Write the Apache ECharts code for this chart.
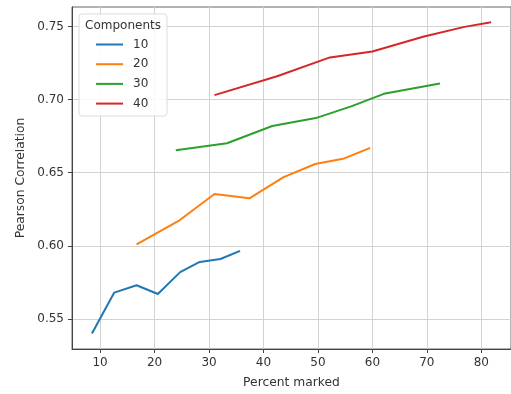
<!DOCTYPE html>
<html>
<head>
<meta charset="utf-8">
<script src="https://cdn.jsdelivr.net/npm/echarts@6/dist/echarts.min.js"></script>
<style>html,body{margin:0;padding:0;background:#fff}#c{width:511px;height:394px}</style>
</head>
<body>
<div id="c"></div>
<script>
var names = ['10', '20', '30', '40'];
var colors = ['#1f77b4', '#ff7f0e', '#2ca02c', '#d62728'];
var x10 = [8.5, 12.6, 16.7, 20.6, 24.7, 28.3, 32.1, 35.7];
var y10 = [0.540, 0.568, 0.573, 0.567, 0.582, 0.589, 0.591, 0.5965];
var x20 = [16.7, 24.4, 31.0, 37.4, 43.7, 49.5, 54.6, 59.6];
var y20 = [0.601, 0.617, 0.6355, 0.6325, 0.647, 0.656, 0.6595, 0.667];
var x30 = [23.9, 33.3, 41.6, 49.6, 56.1, 62.1, 72.4];
var y30 = [0.6654, 0.6702, 0.682, 0.6874, 0.6954, 0.704, 0.711];
var x40 = [31.0, 42.5, 52.2, 60.0, 69.3, 76.9, 81.8];
var y40 = [0.7031, 0.716, 0.7289, 0.733, 0.743, 0.7498, 0.7529];
var xTicks = [10, 20, 30, 40, 50, 60, 70, 80];
var yTicks = [0.55, 0.60, 0.65, 0.70, 0.75];

function pairs(xs, ys) { return xs.map(function (x, i) { return [x, ys[i]]; }); }
var xs = [x10, x20, x30, x40], ys = [y10, y20, y30, y40];

var font = 'DejaVu Sans';
var chart = echarts.init(document.getElementById('c'));
chart.setOption({
  animation: false,
  grid: { left: 72, right: -6, top: 7, bottom: 43, show: true, borderColor: '#666', borderWidth: 1, backgroundColor: 'transparent' },
  xAxis: {
    type: 'value', min: 4.84, max: 85.45,
    name: 'Percent marked', nameLocation: 'middle', nameGap: 28,
    nameTextStyle: { fontFamily: font, fontSize: 12.3, color: '#333' },
    axisLine: { show: true, lineStyle: { color: '#444', width: 1 } },
    axisTick: { show: true, length: 4, lineStyle: { color: '#444' }, customValues: xTicks },
    axisLabel: { fontFamily: font, fontSize: 12, color: '#333', margin: 8, customValues: xTicks },
    splitLine: { show: true, lineStyle: { color: '#d3d3d3', width: 1 } }
  },
  yAxis: {
    type: 'value', min: 0.5294, max: 0.7634,
    name: 'Pearson Correlation', nameLocation: 'middle', nameGap: 41, nameRotate: 90,
    nameTextStyle: { fontFamily: font, fontSize: 12.3, color: '#333' },
    axisLine: { show: true, lineStyle: { color: '#444', width: 1 } },
    axisTick: { show: true, length: 4, lineStyle: { color: '#444' }, customValues: yTicks },
    axisLabel: { fontFamily: font, fontSize: 12, color: '#333', margin: 8, customValues: yTicks,
      formatter: function (v) { return v.toFixed(2); } },
    splitLine: { show: true, lineStyle: { color: '#d3d3d3', width: 1 } }
  },
  graphic: [
    { type: 'rect', shape: { x: 79, y: 14, width: 88, height: 102, r: 3 },
      style: { fill: 'rgba(255,255,255,0.85)', stroke: '#dcdcdc', lineWidth: 1 }, z: 10 },
    { type: 'text', x: 123, y: 26, style: { text: 'Components', font: '12px "DejaVu Sans"', fill: '#333',
      textAlign: 'center', textVerticalAlign: 'middle' }, z: 11 }
  ],
  legend: {
    orient: 'vertical', left: 96, top: 37.5, padding: 0, itemGap: 5.7,
    itemWidth: 27, itemHeight: 2, icon: 'rect', z: 12,
    textStyle: { fontFamily: font, fontSize: 12, color: '#333', lineHeight: 14, padding: [0, 0, 0, 5] },
    data: names
  },
  series: names.map(function (n, i) {
    return {
      name: n, type: 'line', data: pairs(xs[i], ys[i]), showSymbol: false, symbol: 'none',
      lineStyle: { color: colors[i], width: 2 }, itemStyle: { color: colors[i] }, z: 3
    };
  })
});
</script>
</body>
</html>
